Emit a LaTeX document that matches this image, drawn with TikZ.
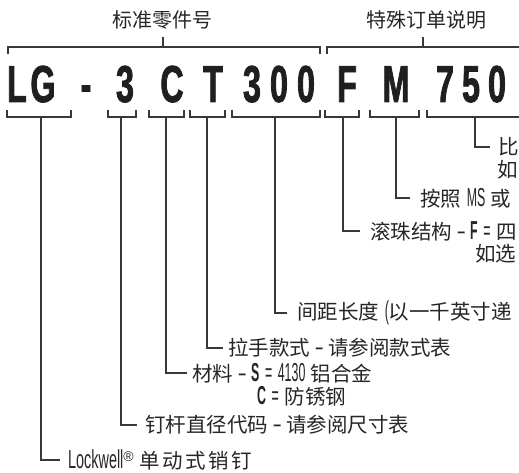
\documentclass[tikz,border=0pt]{standalone}
\usepackage{graphicx}
\usepackage{fontspec}
\setmainfont{Liberation Sans}
\newfontfamily\cjk{Noto Sans CJK SC}
\newfontfamily\cjkw{Noto Sans CJK SC}[LetterSpace=12]
\newfontfamily\bigf{Liberation Sans Bold}[FakeStretch=0.62,FakeBold=1.5]
\newcommand\zhc[1]{{\cjk\fontsize{20.5}{20}\selectfont #1}}
\newcommand\zhw[1]{{\cjkw\fontsize{20.5}{20}\selectfont #1}}
\newcommand\nar[1]{\scalebox{0.62}[1.3]{#1}}
\tikzset{
  ln/.style={draw=black!78, line width=1.1pt},
  big/.style={font=\bigf\fontsize{52}{52}\selectfont, anchor=base, inner sep=0pt, text=black!88},
  lab/.style={font=\fontsize{20}{22}\selectfont, anchor=west, inner sep=0pt, text=black!85},
  head/.style={font=\cjk\fontsize{20}{20}\selectfont, inner sep=0pt, text=black!85}
}
\begin{document}
\begin{tikzpicture}[x=1pt,y=-1pt]
\useasboundingbox (0,0) rectangle (519,473);
\clip (0,0) rectangle (519,473);
% headings
\node[head] (h1) at (162,20) {标准零件号};
\node[head] (h2) at (426,20) {特殊订单说明};
\coordinate (k1) at (163,37);
\coordinate (k2) at (423,37);
\draw[ln] (k1) -- ++(0,10);
\draw[ln] (k2) -- ++(0,10);
\draw[ln] (8,54) -- (8,47) -- (320,47) -- (320,54);
\draw[ln] (327,54) -- (327,47) -- (530,47);
% big code
\node[big] (cL) at (17,102) {L};
\node[big] (cG) at (43,102) {G};
\node[big] (cd) at (86,102) {-};
\node[big] (c3) at (125,102) {3};
\node[big] (cC) at (172,102) {C};
\node[big] (cT) at (213,102) {T};
\node[big] (c31) at (252,102) {3};
\node[big] (c32) at (279,102) {0};
\node[big] (c33) at (306,102) {0};
\node[big] (cF) at (347,102) {F};
\node[big] (cM) at (396,102) {M};
\node[big] (c71) at (445,102) {7};
\node[big] (c72) at (471,102) {5};
\node[big] (c73) at (497,102) {0};
% bottom brackets
\draw[ln] (7,110) -- (7,117) -- (71,117) -- (71,110);
\draw[ln] (108,110) -- (108,117) -- (136,117) -- (136,110);
\draw[ln] (149,110) -- (149,117) -- (184,117) -- (184,110);
\draw[ln] (190,110) -- (190,117) -- (225,117) -- (225,110);
\draw[ln] (232,110) -- (232,117) -- (320,117) -- (320,110);
\draw[ln] (325,110) -- (325,117) -- (359,117) -- (359,110);
\draw[ln] (370,110) -- (370,117) -- (419,117) -- (419,110);
\draw[ln] (427,110) -- (427,117) -- (530,117);
\coordinate (s1) at (41,117);
\coordinate (s2) at (121,117);
\coordinate (s3) at (166,117);
\coordinate (s4) at (207,117);
\coordinate (s5) at (275,117);
\coordinate (s6) at (343,117);
\coordinate (s7) at (396,117);
\coordinate (s8) at (475,117);
% labels
\node[lab] (t1) at (68,460) {\scalebox{0.72}[1.3]{Lockwell}\textsuperscript{®} \zhw{单动式销钉}};
\node[lab] (t2) at (145,425) {\zhc{钉杆直径代码} \nar{–} \zhc{请参阅尺寸表}};
\node[lab] (t3) at (192,373) {\zhc{材料} \nar{–} \nar{\textbf{S}} \nar{=} \nar{4130} \zhc{铝合金}};
\node[lab] (t3b) at (257,396) {\nar{\textbf{C}} \nar{=} \zhc{防锈钢}};
\node[lab] (t4) at (228,348) {\zhc{拉手款式} \nar{–} \zhc{请参阅款式表}};
\node[lab] (t5) at (297,313) {\zhc{间距长度} \nar{(}\zhc{以一千英寸递}};
\node[lab] (t6) at (370,231) {\zhc{滚珠结构} \nar{–} \nar{\textbf{F}} \nar{=} \zhc{四}};
\node[lab] (t6b) at (475,254) {\zhc{如选}};
\node[lab] (t7) at (420,198) {\zhc{按照} \nar{MS} \zhc{或}};
\node[lab] (t8) at (498,147) {\zhc{比}};
\node[lab] (t8b) at (497,170) {\zhc{如}};
% stems
\draw[ln] (s1) |- ([xshift=-8pt]t1.west);
\draw[ln] (s2) |- ([xshift=-8pt]t2.west);
\draw[ln] (s3) |- ([xshift=-5pt]t3.west);
\draw[ln] (s4) |- ([xshift=-5pt]t4.west);
\draw[ln] (s5) |- ([xshift=-10pt]t5.west);
\draw[ln] (s6) |- ([xshift=-10pt]t6.west);
\draw[ln] (s7) |- ([xshift=-10pt]t7.west);
\draw[ln] (s8) |- ([xshift=-8pt]t8.west);
\end{tikzpicture}
\end{document}
